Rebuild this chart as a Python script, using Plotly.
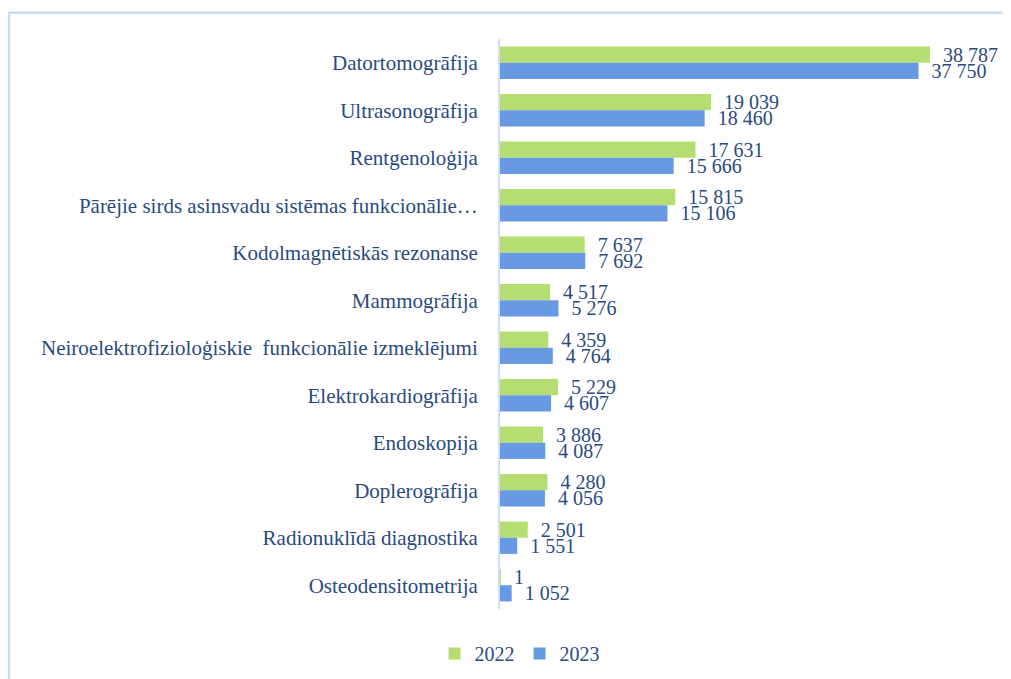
import plotly.graph_objects as go

categories = [
    "Datortomogrāfija",
    "Ultrasonogrāfija",
    "Rentgenoloģija",
    "Pārējie sirds asinsvadu sistēmas funkcionālie…",
    "Kodolmagnētiskās rezonanse",
    "Mammogrāfija",
    "Neiroelektrofizioloģiskie  funkcionālie izmeklējumi",
    "Elektrokardiogrāfija",
    "Endoskopija",
    "Doplerogrāfija",
    "Radionuklīdā diagnostika",
    "Osteodensitometrija",
]
values_2022 = [38787, 19039, 17631, 15815, 7637, 4517, 4359, 5229, 3886, 4280, 2501, 1]
values_2023 = [37750, 18460, 15666, 15106, 7692, 5276, 4764, 4607, 4087, 4056, 1551, 1052]
series_names = ["2022", "2023"]


def fmt(v):
    return "\u00a0\u00a0" + f"{v:,}".replace(",", " ")


TEXT = "#2B4A7E"
FONT = "Liberation Serif"

fig = go.Figure()
fig.add_trace(go.Bar(
    y=categories, x=values_2022, name=series_names[0], orientation="h",
    marker=dict(color="#B5DD72", line=dict(width=0)),
    text=[fmt(v) for v in values_2022], textposition="outside",
    constraintext="none",
    textfont=dict(family=FONT, size=20, color=TEXT), cliponaxis=False,
))
fig.add_trace(go.Bar(
    y=categories, x=values_2023, name=series_names[1], orientation="h",
    marker=dict(color="#679AE2", line=dict(width=0)),
    text=[fmt(v) for v in values_2023], textposition="outside",
    constraintext="none",
    textfont=dict(family=FONT, size=20, color=TEXT), cliponaxis=False,
))

fig.update_layout(
    width=1003, height=671,
    margin=dict(l=492, r=11, t=31, b=70, autoexpand=False),
    paper_bgcolor="white", plot_bgcolor="white",
    barmode="group", bargap=0.32, bargroupgap=0,
    font=dict(family=FONT, size=20, color=TEXT),
    showlegend=True,
    legend=dict(orientation="h", x=0.51, xanchor="center", xref="container",
                y=0.038, yanchor="middle", yref="container",
                font=dict(family=FONT, size=20, color=TEXT),
                itemwidth=30, traceorder="normal"),
)
fig.update_xaxes(range=[0, 45100], visible=False, showgrid=False, zeroline=False)
fig.update_yaxes(autorange="reversed", showgrid=False, zeroline=False,
                 showline=True, linecolor="#D0DFF3", linewidth=2,
                 ticks="", ticklabelstandoff=16, automargin=False,
                 tickfont=dict(family=FONT, size=21, color=TEXT))

# outer light-blue frame (top and left edges visible)
fig.add_shape(type="path", xref="paper", yref="paper",
              path="M -0.982,-0.2 L -0.982,1.046 L 1.1,1.046",
              line=dict(color="#C9DCF2", width=2.5), layer="below")

fig.write_html("out.html")
